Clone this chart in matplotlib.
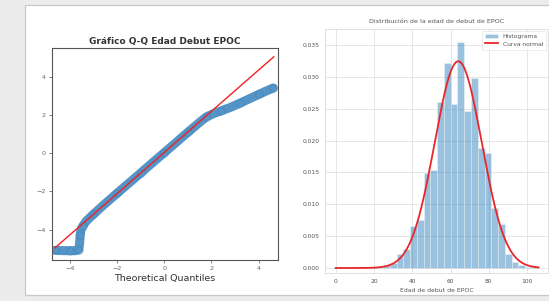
import numpy as np
import matplotlib.pyplot as plt
from matplotlib.patches import Rectangle

# ---- Q-Q plot (standardised sample vs theoretical normal quantiles) ----
qq_theoretical = [-4.62, -4.3, -4.0, -3.75, -3.62, -3.58, -3.56, -3.52, -3.45, -3.3,
                  -3.0, -2.5, -2.0, -1.5, -1.0, -0.5, 0.0, 0.5, 1.0, 1.5,
                  1.8, 2.1, 2.4, 2.8, 3.2, 3.6, 4.0, 4.3, 4.62]
qq_sample = [-5.08, -5.1, -5.1, -5.1, -5.05, -4.7, -4.3, -4.0, -3.82, -3.55,
             -3.2, -2.64, -2.1, -1.57, -1.04, -0.5, 0.03, 0.56, 1.1, 1.62,
             1.92, 2.08, 2.22, 2.4, 2.62, 2.85, 3.08, 3.25, 3.42]
qq_line_slope = 1.08
qq_line_intercept = 0.04
qq_line_x = [-4.62, 4.64]

# ---- histogram of onset age ----
age_min, age_max, n_bins = 0, 106, 30
hist_density = [0.0001, 0.0, 0.0, 0.0, 0.00005, 0.0001, 0.0002, 0.0005, 0.0008, 0.0022,
                0.0030, 0.0066, 0.0076, 0.0149, 0.0154, 0.0260, 0.0322, 0.0258, 0.0355, 0.0247,
                0.0298, 0.0188, 0.0181, 0.0094, 0.0069, 0.0022, 0.0010, 0.0004, 0.0002, 0.0001]
age_mean = 64.0
age_std = 12.3

W, H = 549, 301
fig = plt.figure(figsize=(W / 100, H / 100), dpi=100, facecolor='#ececec')

# white card of the screenshot
bg = fig.add_axes([0, 0, 1, 1], zorder=-10)
bg.set_axis_off()
bg.set_xlim(0, W)
bg.set_ylim(H, 0)
bg.add_patch(Rectangle((25, 5), W, 290, facecolor='white', edgecolor='#c8c8c8', lw=0.9))

# ---------------- left: Q-Q ----------------
ax1 = fig.add_axes([52 / W, 41 / H, 226 / W, 212.3 / H])
ax1.plot(qq_theoretical, qq_sample, color='#2a7ab8', lw=6.5, alpha=0.8,
         solid_capstyle='round', solid_joinstyle='round')
ax1.plot(qq_theoretical[::2], qq_sample[::2], 'o', ms=5.5, mfc='none', mec='#1f77b4',
         mew=0.6, alpha=0.35)
lx = np.array(qq_line_x)
ax1.plot(lx, qq_line_slope * lx + qq_line_intercept, color='#ee2222', lw=1.0)
ax1.set_xlim(-4.75, 4.82)
ax1.set_ylim(-5.59, 5.53)
ax1.set_xticks([-4, -2, 0, 2, 4])
ax1.set_yticks([-4, -2, 0, 2, 4])
ax1.tick_params(labelsize=4.6, colors='#666666', length=2.5, width=0.6, pad=2)
for s in ax1.spines.values():
    s.set_color('#555555')
    s.set_linewidth(0.8)
ax1.set_title('Gráfico Q-Q Edad Debut EPOC', fontsize=6.5, fontweight='bold',
              color='#333333', pad=3)
ax1.set_xlabel('Theoretical Quantiles', fontsize=6.8, color='#333333', labelpad=2)

# ---------------- right: histogram ----------------
ax2 = fig.add_axes([325 / W, 28 / H, 223 / W, 244 / H])
edges = np.linspace(age_min, age_max, n_bins + 1)
bars = ax2.bar(edges[:-1], hist_density, width=np.diff(edges), align='edge',
               color='#1f77b4', alpha=0.45, edgecolor='white', linewidth=0.5,
               label='Histograma')
xs = np.linspace(age_min, age_max, 300)
pdf = np.exp(-0.5 * ((xs - age_mean) / age_std) ** 2) / (age_std * np.sqrt(2 * np.pi))
curve, = ax2.plot(xs, pdf, color='#e8262b', lw=1.3, label='Curva normal')
ax2.set_xlim(-5.6, 110.9)
ax2.set_ylim(-0.00078, 0.0375)
ax2.set_xticks([0, 20, 40, 60, 80, 100])
ax2.set_yticks([0.0, 0.005, 0.010, 0.015, 0.020, 0.025, 0.030, 0.035])
ax2.set_yticklabels(['0.000', '0.005', '0.010', '0.015', '0.020', '0.025', '0.030', '0.035'])
ax2.grid(True, color='#e6e6e6', lw=0.7)
ax2.set_axisbelow(True)
ax2.tick_params(labelsize=4.3, colors='#555555', length=0, pad=4)
for s in ax2.spines.values():
    s.set_color('#e0e0e0')
    s.set_linewidth(0.7)
ax2.set_title('Distribución de la edad de debut de EPOC', fontsize=4.6, color='#555555', pad=4)
ax2.set_xlabel('Edad de debut de EPOC', fontsize=4.4, color='#555555', labelpad=3)
leg = ax2.legend([bars, curve], ['Histograma', 'Curva normal'], loc='upper right',
                 fontsize=4.3, frameon=True, borderpad=0.5, handlelength=2.2,
                 labelspacing=0.4, borderaxespad=0.3)
leg.get_frame().set_edgecolor('#dddddd')
leg.get_frame().set_linewidth(0.5)
for t in leg.get_texts():
    t.set_color('#555555')

fig.savefig('out.png', dpi=100, facecolor=fig.get_facecolor())
